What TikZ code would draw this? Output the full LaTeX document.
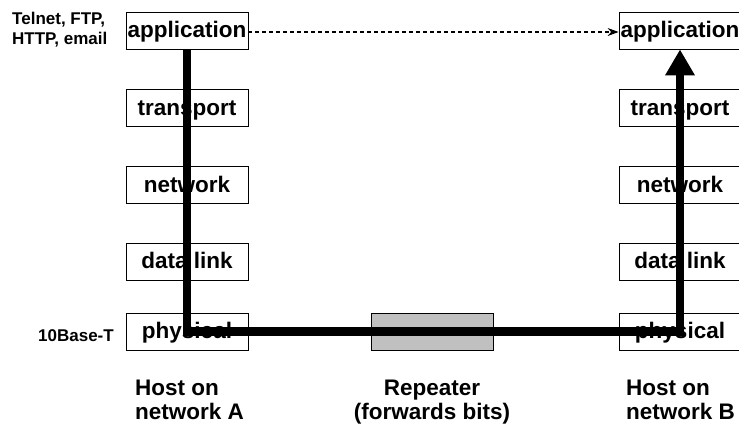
\documentclass[tikz,border=0pt]{standalone}
\usepackage{fontspec}
\setmainfont{Liberation Sans}
\usetikzlibrary{arrows.meta}
\definecolor{repgray}{HTML}{C0C0C0}
\begin{document}
\begin{tikzpicture}[x=1pt,y=-1pt,
  layer/.style={draw=black, line width=0.8pt, fill=white, minimum width=122pt,
    minimum height=37pt, inner sep=0pt, text height=19pt, text depth=4pt,
    font=\fontsize{22.5}{24}\selectfont\bfseries},
  small/.style={inner sep=0pt, align=left, font=\fontsize{17}{20}\selectfont\bfseries},
  big/.style={inner sep=0pt, align=left, font=\fontsize{22.5}{24}\selectfont\bfseries},
  flow/.style={line width=8.5pt, line join=miter, -{Triangle[width=28pt,length=26pt]}},
  peer/.style={line width=1.1pt, dash pattern=on 4pt off 3pt, -{Stealth[length=11pt,width=8pt]}}]
\fill[white] (0,0) rectangle (739,427);
\useasboundingbox (0,0) rectangle (739,427);
% left host
\node[layer] (a1) at (187,30.5) {application};
\node[layer] (a2) at (187,108) {transport};
\node[layer] (a3) at (187,185) {network};
\node[layer] (a4) at (187,261.5) {data link};
\node[layer] (a5) at (187,331.5) {physical};
% right host
\node[layer] (b1) at (680,30.5) {application};
\node[layer] (b2) at (680,108) {transport};
\node[layer] (b3) at (680,185) {network};
\node[layer] (b4) at (680,261.5) {data link};
\node[layer] (b5) at (680,331.5) {physical};
% repeater
\node[layer, fill=repgray] (r) at (432,331.5) {};
% connectors
\draw[peer] ([yshift=-1.5pt]a1.east) -- ([yshift=-1.5pt]b1.west);
\draw[flow] (a1.south) -- (a5.center) -- (r.center) -- (b5.center) -- (b1.south);
% labels
\node[small, anchor=base west] (t) at (12,45) {Telnet, FTP,\\HTTP, email};
\node[small, anchor=base west] (tb) at (38,341.5) {10Base-T};
\node[big, anchor=base west] (ha) at (135,420) {Host on\\network A};
\node[big, anchor=base west] (hb) at (626,420) {Host on\\network B};
\node[big, anchor=base, align=center] (rl) at (432,420) {Repeater\\(forwards bits)};
\end{tikzpicture}
\end{document}
